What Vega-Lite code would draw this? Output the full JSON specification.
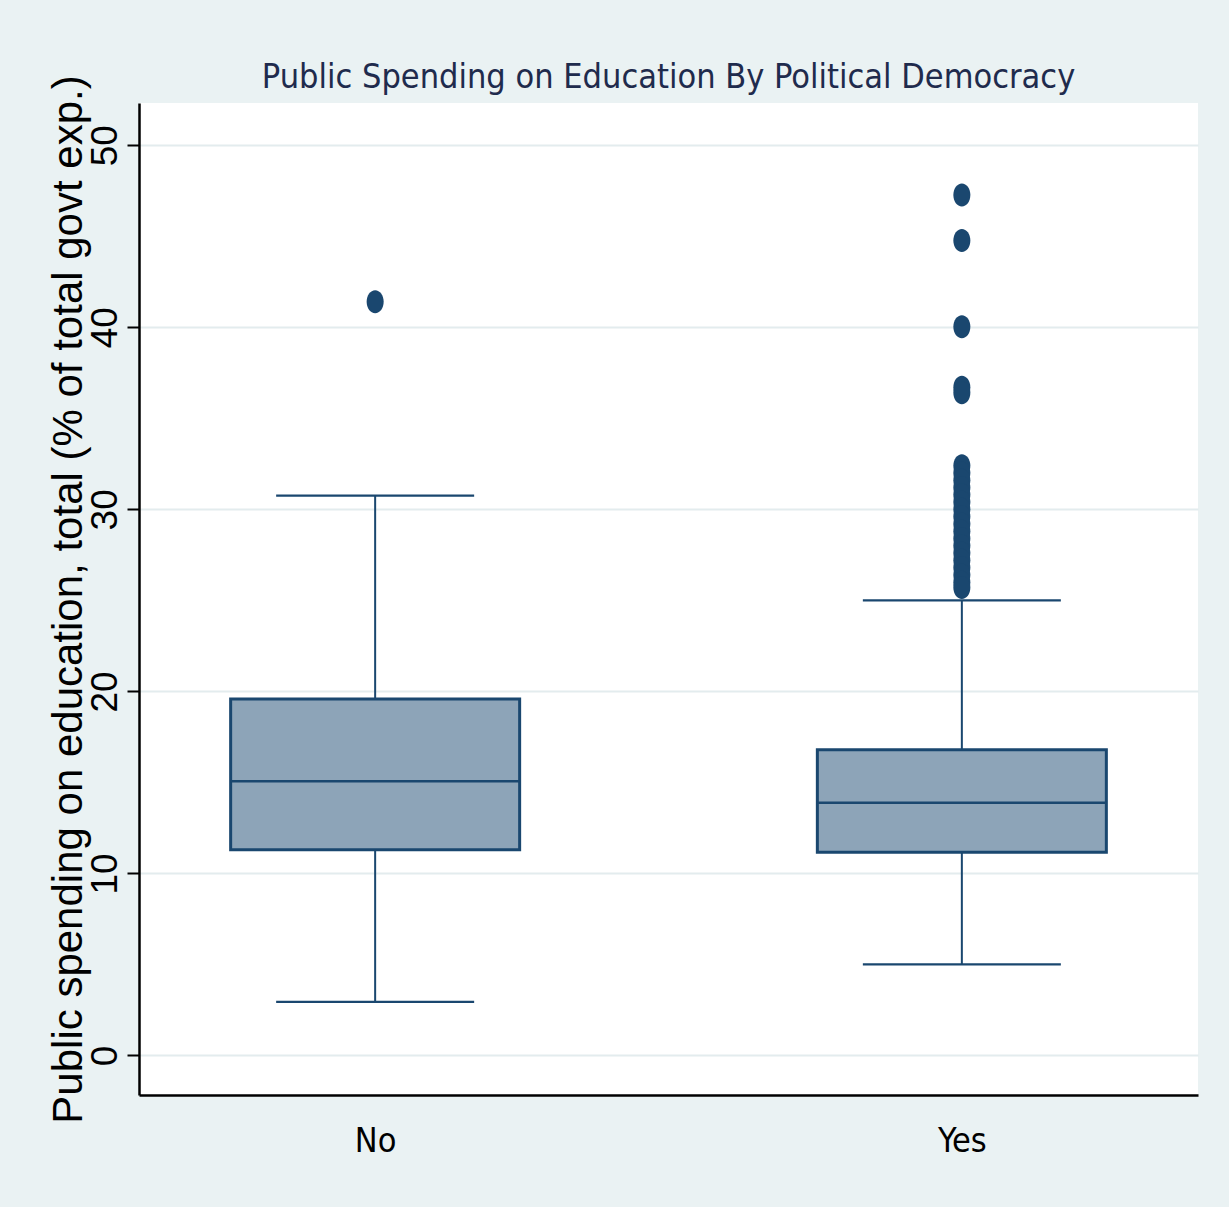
{
  "$schema": "https://vega.github.io/schema/vega-lite/v6.json",
  "autosize": "none",
  "width": 1059,
  "height": 992,
  "padding": {"left": 139, "top": 103, "right": 31, "bottom": 112},
  "background": "#EAF2F3",
  "title": {
    "text": "Public Spending on Education By Political Democracy",
    "font": "DejaVu Sans Condensed, Liberation Sans Narrow, sans-serif",
    "fontSize": 34,
    "fontWeight": "normal",
    "color": "#1f2b4d",
    "anchor": "middle",
    "frame": "group",
    "baseline": "alphabetic",
    "offset": -47
  },
  "datasets": {
    "summary": [
      {"democracy": "No", "lower": 2.95, "q1": 11.3, "median": 15.07, "q3": 19.58, "upper": 30.75},
      {"democracy": "Yes", "lower": 5.0, "q1": 11.17, "median": 13.88, "q3": 16.8, "upper": 25.0}
    ],
    "outliers": [
      {"democracy": "No", "value": 41.4},
      {"democracy": "Yes", "value": 47.27},
      {"democracy": "Yes", "value": 44.77},
      {"democracy": "Yes", "value": 40.03},
      {"democracy": "Yes", "value": 36.7},
      {"democracy": "Yes", "value": 36.4},
      {"democracy": "Yes", "value": 32.4},
      {"democracy": "Yes", "value": 32.0},
      {"democracy": "Yes", "value": 31.6},
      {"democracy": "Yes", "value": 31.2},
      {"democracy": "Yes", "value": 30.8},
      {"democracy": "Yes", "value": 30.4},
      {"democracy": "Yes", "value": 30.0},
      {"democracy": "Yes", "value": 29.6},
      {"democracy": "Yes", "value": 29.2},
      {"democracy": "Yes", "value": 28.8},
      {"democracy": "Yes", "value": 28.4},
      {"democracy": "Yes", "value": 28.0},
      {"democracy": "Yes", "value": 27.6},
      {"democracy": "Yes", "value": 27.2},
      {"democracy": "Yes", "value": 26.8},
      {"democracy": "Yes", "value": 26.4},
      {"democracy": "Yes", "value": 26.0},
      {"democracy": "Yes", "value": 25.7}
    ]
  },
  "config": {
    "view": {"fill": "white", "stroke": null},
    "axis": {
      "domainColor": "#000000",
      "domainWidth": 2.5,
      "labelColor": "#000000",
      "titleColor": "#000000",
      "titleFontWeight": "normal"
    }
  },
  "encoding": {
    "x": {
      "field": "democracy",
      "type": "nominal",
      "scale": {"type": "point", "padding": 0.4025, "domain": ["No", "Yes"]},
      "axis": {
        "title": null,
        "ticks": false,
        "tickSize": 0,
        "grid": false,
        "labelAngle": 0,
        "labelFont": "DejaVu Sans Condensed, Liberation Sans Narrow, sans-serif",
        "labelFontSize": 34,
        "labelBaseline": "alphabetic",
        "labelPadding": 56
      }
    }
  },
  "layer": [
    {
      "data": {"name": "summary"},
      "mark": {"type": "rule", "color": "#1A476F", "strokeWidth": 2},
      "encoding": {
        "y": {
          "field": "lower",
          "type": "quantitative",
          "scale": {"domain": [-2.17, 52.32], "nice": false, "zero": false},
          "axis": {
            "title": "Public spending on education, total (% of total govt exp.)",
            "values": [0, 10, 20, 30, 40, 50],
            "grid": true,
            "gridColor": "#E3ECEE",
            "gridWidth": 2,
            "tickColor": "#000000",
            "tickWidth": 2,
            "tickSize": 12,
            "labelAngle": -90,
            "labelAlign": "center",
            "labelBaseline": "alphabetic",
            "labelPadding": 11,
            "labelFont": "Liberation Sans, Arial, sans-serif",
            "labelFontSize": 37,
            "titleFont": "Liberation Sans, Arial, sans-serif",
            "titleFontSize": 42,
            "titleAngle": -90,
            "titleAlign": "center",
            "titleBaseline": "alphabetic",
            "titleX": -58,
            "titleY": 496
          }
        },
        "y2": {"field": "upper"}
      }
    },
    {
      "data": {"name": "summary"},
      "mark": {"type": "tick", "color": "#1A476F", "size": 198, "thickness": 2.2, "opacity": 1},
      "encoding": {"y": {"field": "lower", "type": "quantitative"}}
    },
    {
      "data": {"name": "summary"},
      "mark": {"type": "tick", "color": "#1A476F", "size": 198, "thickness": 2.2, "opacity": 1},
      "encoding": {"y": {"field": "upper", "type": "quantitative"}}
    },
    {
      "data": {"name": "summary"},
      "mark": {"type": "bar", "width": 289, "fill": "#8DA4B8", "stroke": "#1A476F", "strokeWidth": 3},
      "encoding": {
        "y": {"field": "q1", "type": "quantitative"},
        "y2": {"field": "q3"}
      }
    },
    {
      "data": {"name": "summary"},
      "mark": {"type": "tick", "color": "#1A476F", "size": 289, "thickness": 2.5, "opacity": 1},
      "encoding": {"y": {"field": "median", "type": "quantitative"}}
    },
    {
      "data": {"name": "outliers"},
      "mark": {
        "type": "point",
        "filled": true,
        "opacity": 1,
        "color": "#1A476F",
        "shape": "M-0.74,0A0.74,1,0,1,1,0.74,0A0.74,1,0,1,1,-0.74,0Z",
        "size": 529
      },
      "encoding": {"y": {"field": "value", "type": "quantitative"}}
    }
  ]
}
